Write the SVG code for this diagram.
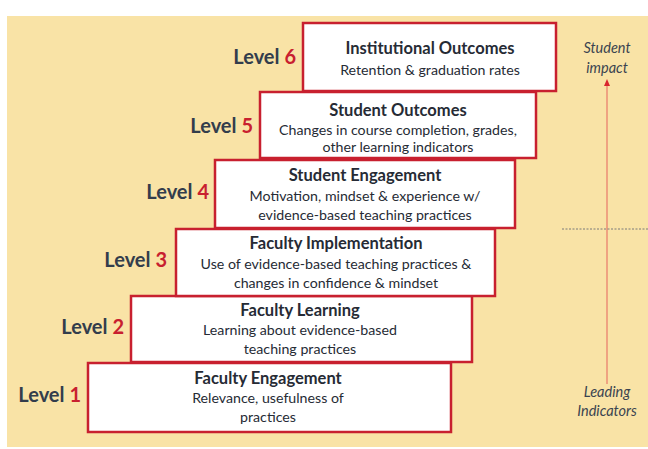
<svg xmlns="http://www.w3.org/2000/svg" width="648" height="449" viewBox="0 0 648 449">
<style>
.box{fill:#ffffff;stroke:#c8202f;stroke-width:2.5}
.t{font-family:Lato,"Liberation Sans",sans-serif;font-size:16.5px;font-weight:bold;fill:#262b35;text-anchor:middle}
.d{font-family:Lato,"Liberation Sans",sans-serif;font-size:14.2px;fill:#262b35;text-anchor:middle}
.lv{font-family:Lato,"Liberation Sans",sans-serif;font-size:20px;font-weight:bold;fill:#333d4c;text-anchor:end}
.lv tspan{fill:#c8202f}
.side{font-family:Lato,"Liberation Sans",sans-serif;font-size:14.5px;font-style:italic;fill:#3b4350;text-anchor:middle}
</style>
<rect x="7" y="16" width="641" height="431" fill="#f9e3a6"/>
<g id="connectors">
<line x1="607" y1="384" x2="607" y2="82" stroke="#e8786a" stroke-width="1.2"/>
<path d="M604,86 L607,79 L610,86 Z" fill="#d9262e"/>
<line x1="562" y1="229" x2="648" y2="229" stroke="#7a7a7a" stroke-width="1" stroke-dasharray="2,1.5"/>
</g>
<g id="level1">
<rect class="box" x="88" y="363" width="363" height="69"/>
<text class="t" x="268" y="384">Faculty Engagement</text>
<text class="d" x="268" y="403">Relevance, usefulness of</text>
<text class="d" x="268" y="422">practices</text>
<text class="lv" x="81" y="402">Level <tspan>1</tspan></text>
</g>
<g id="level2">
<rect class="box" x="131" y="296" width="341" height="66"/>
<text class="t" x="300" y="316">Faculty Learning</text>
<text class="d" x="300" y="335">Learning about evidence-based</text>
<text class="d" x="300" y="354">teaching practices</text>
<text class="lv" x="124" y="334">Level <tspan>2</tspan></text>
</g>
<g id="level3">
<rect class="box" x="176" y="229" width="319" height="67"/>
<text class="t" x="336" y="249">Faculty Implementation</text>
<text class="d" x="336" y="269">Use of evidence-based teaching practices &amp;</text>
<text class="d" x="336" y="288">changes in confidence &amp; mindset</text>
<text class="lv" x="167" y="267">Level <tspan>3</tspan></text>
</g>
<g id="level4">
<rect class="box" x="215" y="160" width="300" height="68"/>
<text class="t" x="365" y="181">Student Engagement</text>
<text class="d" x="365" y="201">Motivation, mindset &amp; experience w/</text>
<text class="d" x="365" y="220">evidence-based teaching practices</text>
<text class="lv" x="209" y="199">Level <tspan>4</tspan></text>
</g>
<g id="level5">
<rect class="box" x="260" y="92" width="276" height="66"/>
<text class="t" x="398" y="116">Student Outcomes</text>
<text class="d" x="398" y="135">Changes in course completion, grades,</text>
<text class="d" x="398" y="152">other learning indicators</text>
<text class="lv" x="253" y="133">Level <tspan>5</tspan></text>
</g>
<g id="level6">
<rect class="box" x="303" y="23" width="253" height="68"/>
<text class="t" x="430" y="54">Institutional Outcomes</text>
<text class="d" x="430" y="75">Retention &amp; graduation rates</text>
<text class="lv" x="296" y="64">Level <tspan>6</tspan></text>
</g>
<g id="labels">
<text class="side" x="607" y="53">Student</text>
<text class="side" x="607" y="73">impact</text>
<text class="side" x="607" y="397">Leading</text>
<text class="side" x="607" y="416">Indicators</text>
</g>
</svg>
